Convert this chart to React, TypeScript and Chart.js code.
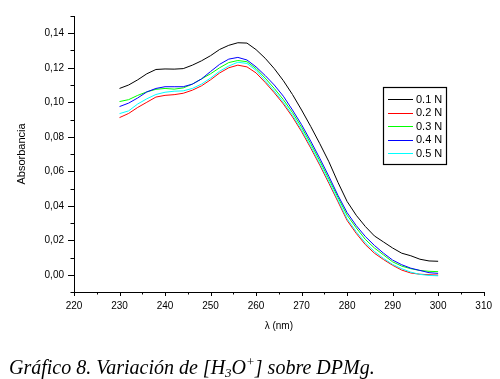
import React, { useEffect, useRef } from "react";
import { Chart, registerables } from "chart.js";

Chart.register(...registerables);

const wavelengths = [230, 232, 234, 236, 238, 240, 242, 244, 246, 248, 250, 252, 254, 256, 258, 260, 262, 264, 266, 268, 270, 272, 274, 276, 278, 280, 282, 284, 286, 288, 290, 292, 294, 296, 298, 300];

const s01 = [0.108, 0.110, 0.113, 0.1165, 0.119, 0.1193, 0.1192, 0.1195, 0.1215, 0.124, 0.127, 0.1306, 0.133, 0.1345, 0.1343, 0.1305, 0.1255, 0.1195, 0.1125, 0.1045, 0.0955, 0.086, 0.076, 0.0655, 0.0535, 0.0425, 0.0345, 0.028, 0.0225, 0.019, 0.0155, 0.0125, 0.011, 0.009, 0.008, 0.0078];
const s02 = [0.0911, 0.0935, 0.097, 0.100, 0.103, 0.104, 0.1044, 0.1052, 0.107, 0.1095, 0.113, 0.117, 0.120, 0.1215, 0.1205, 0.117, 0.1115, 0.1055, 0.099, 0.0915, 0.083, 0.0735, 0.0635, 0.053, 0.0423, 0.0315, 0.024, 0.0175, 0.0125, 0.0088, 0.0055, 0.0027, 0.001, 0.0003, 0.0, -0.0002];
const s03 = [0.1004, 0.1015, 0.104, 0.106, 0.1075, 0.108, 0.1076, 0.1083, 0.1105, 0.1135, 0.1165, 0.120, 0.123, 0.1242, 0.1235, 0.1195, 0.114, 0.108, 0.1015, 0.094, 0.0855, 0.076, 0.066, 0.0555, 0.0448, 0.0345, 0.0272, 0.0205, 0.0155, 0.0115, 0.0075, 0.005, 0.0035, 0.0025, 0.002, 0.0018];
const s04 = [0.0975, 0.0995, 0.1025, 0.106, 0.108, 0.109, 0.109, 0.109, 0.1105, 0.1135, 0.1178, 0.122, 0.125, 0.126, 0.1245, 0.1205, 0.1155, 0.110, 0.1035, 0.0955, 0.087, 0.0775, 0.0675, 0.057, 0.046, 0.036, 0.0285, 0.0222, 0.017, 0.0125, 0.0085, 0.0058, 0.0038, 0.0025, 0.0012, 0.0008];
const s05 = [0.0934, 0.095, 0.099, 0.102, 0.1045, 0.1058, 0.1064, 0.1066, 0.108, 0.1105, 0.114, 0.118, 0.121, 0.1232, 0.1225, 0.1185, 0.1125, 0.1065, 0.100, 0.0925, 0.084, 0.0745, 0.0645, 0.054, 0.0433, 0.0325, 0.025, 0.0185, 0.0135, 0.0095, 0.006, 0.0035, 0.0015, 0.0002, -0.0004, -0.0006];

const seriesLabels = ["0.1 N", "0.2 N", "0.3 N", "0.4 N", "0.5 N"];
const seriesValues = [s01, s02, s03, s04, s05];
const seriesColors = ["#000000", "#ff0000", "#00ff00", "#0000ff", "#00ffff"];

const xMin = 220, xMax = 310, xStep = 5;
const yMin = -0.01, yMax = 0.15, yStep = 0.01;

const FONT = "'Liberation Sans', Arial, sans-serif";

const tickPlugin = {
  id: "customTicks",
  afterDraw(chart: any) {
    const ctx = chart.ctx;
    const xs = chart.scales.x;
    const ys = chart.scales.y;
    ctx.save();
    ctx.strokeStyle = "#000";
    ctx.lineWidth = 1;
    ctx.beginPath();
    xs.ticks.forEach((t: any) => {
      const major = Math.round(t.value) % 10 === 0;
      const px = Math.round(xs.getPixelForValue(t.value)) + 0.5;
      const y0 = chart.chartArea.bottom;
      ctx.moveTo(px, y0);
      ctx.lineTo(px, y0 + (major ? 4 : 2.5));
    });
    ys.ticks.forEach((t: any) => {
      const k = Math.round(t.value * 100);
      const major = k % 2 === 0;
      const py = Math.round(ys.getPixelForValue(t.value)) + 0.5;
      const x0 = chart.chartArea.left;
      ctx.moveTo(x0, py);
      ctx.lineTo(x0 - (major ? 6 : 3.5), py);
    });
    ctx.stroke();

    // legend
    const lx = 383, ly = 87, lw = 63, lh = 77;
    ctx.strokeStyle = "#000";
    ctx.lineWidth = 1.2;
    ctx.strokeRect(lx + 0.5, ly + 0.5, lw, lh);
    ctx.font = `11px ${FONT}`;
    ctx.textBaseline = "middle";
    ctx.textAlign = "left";
    chart.data.datasets.forEach((ds: any, i: number) => {
      const yy = ly + 12 + i * 13.5;
      ctx.strokeStyle = ds.borderColor;
      ctx.lineWidth = 1;
      ctx.beginPath();
      ctx.moveTo(lx + 5, Math.round(yy) + 0.5);
      ctx.lineTo(lx + 30, Math.round(yy) + 0.5);
      ctx.stroke();
      ctx.fillStyle = "#000";
      ctx.fillText(ds.label, lx + 33, yy + 0.5);
    });
    ctx.restore();
  },
};

export default function App() {
  const ref = useRef<HTMLCanvasElement | null>(null);
  useEffect(() => {
    if (!ref.current) return;
    const chart = new Chart(ref.current, {
      type: "line",
      data: {
        datasets: seriesLabels.map((label, i) => ({
          label,
          data: wavelengths.map((w, j) => ({ x: w, y: seriesValues[i][j] })),
          borderColor: seriesColors[i],
          backgroundColor: seriesColors[i],
          borderWidth: 1,
          pointRadius: 0,
          tension: 0,
          fill: false,
          order: seriesLabels.length - i,
        })),
      },
      options: {
        animation: false,
        responsive: false,
        maintainAspectRatio: false,
        layout: { padding: { left: 0, right: 15, top: 16, bottom: 0 } },
        plugins: { legend: { display: false }, tooltip: { enabled: false } },
        scales: {
          x: {
            type: "linear",
            min: xMin,
            max: xMax,
            afterFit: (s: any) => { s.height = 87; },
            ticks: {
              stepSize: xStep,
              autoSkip: false,
              maxRotation: 0,
              padding: 8,
              color: "#000",
              font: { family: FONT, size: 10 },
              callback: (v: any) => (Math.round(v) % 10 === 0 ? String(Math.round(v)) : ""),
            },
            grid: { display: true, drawOnChartArea: false, drawTicks: false },
            border: { display: true, color: "#000", width: 1 },
            title: {
              display: true,
              text: "λ (nm)",
              color: "#000",
              font: { family: FONT, size: 10 },
              padding: { top: 0, bottom: 47 },
            },
          },
          y: {
            type: "linear",
            min: yMin,
            max: yMax,
            afterFit: (s: any) => { s.width = 74; },
            ticks: {
              stepSize: yStep,
              autoSkip: false,
              padding: 10,
              color: "#000",
              font: { family: FONT, size: 10 },
              callback: (v: any) => {
                const k = Math.round(v * 100);
                return k % 2 === 0 && k >= 0 && k <= 14 ? (k / 100).toFixed(2).replace(".", ",") : "";
              },
            },
            grid: { display: true, drawOnChartArea: false, drawTicks: false },
            border: { display: true, color: "#000", width: 1 },
            title: {
              display: true,
              text: "Absorbancia",
              color: "#000",
              font: { family: FONT, size: 11 },
              padding: { top: 15.4, bottom: 0 },
            },
          },
        },
      },
      plugins: [tickPlugin],
    });
    return () => chart.destroy();
  }, []);

  return (
    <div style={{ position: "fixed", left: 0, top: 0, width: 500, height: 379, background: "#fff" }}>
      <canvas ref={ref} width={500} height={379} style={{ display: "block", width: 500, height: 379 }} />
      <div
        style={{
          position: "absolute",
          left: 9,
          top: 351,
          fontFamily: "'Liberation Serif', 'Times New Roman', serif",
          fontStyle: "italic",
          fontSize: 20,
          lineHeight: "22px",
          whiteSpace: "nowrap",
          color: "#000",
        }}
      >
        Gráfico 8. Variación de [H
        <span style={{ fontSize: 13, verticalAlign: "-3px" }}>3</span>O
        <span style={{ fontSize: 13, verticalAlign: "8px" }}>+</span>] sobre DPMg.
      </div>
    </div>
  );
}
